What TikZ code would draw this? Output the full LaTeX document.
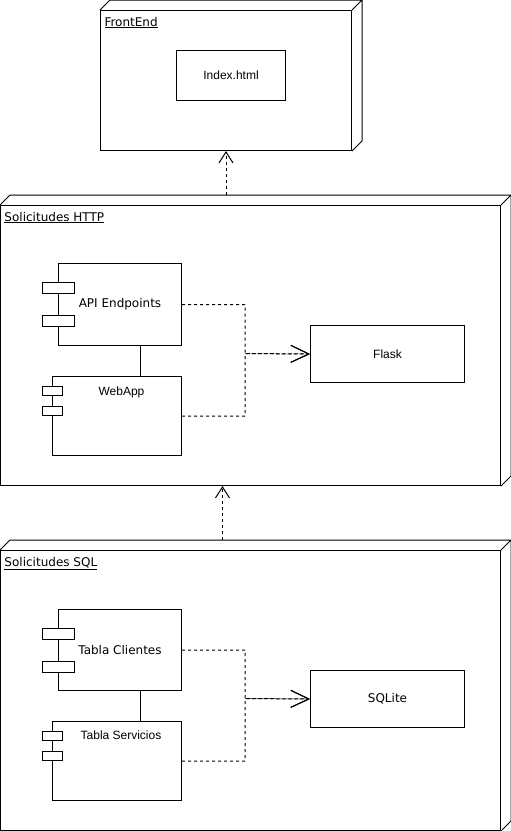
\documentclass[tikz,border=0pt]{standalone}
\usepackage{fontspec}
\setmainfont{DejaVu Sans}
\newfontfamily\arialfont{Liberation Sans}
\usetikzlibrary{arrows.meta}

% depth of a deployment node, drawn behind its front face
\newcommand\nodedepth[1]{%
\path[draw] (#1.north west) -- ++(10,-10)
 -- ([shift={(10pt,10pt)}]#1.north east)
 -- ([shift={(10pt,10pt)}]#1.south east) -- (#1.south east)
 (#1.north east) -- ++(10,-10) ;}

% the two ports of a component
\newcommand\wideports[1]{%
\path[draw,fill=white] (#1.north west) ++(-16,19) rectangle ++(32,11)
 (#1.north west) ++(-16,52) rectangle ++(32,11) ;}
\newcommand\narrowports[1]{%
\path[draw,fill=white] (#1.north west) ++(-10,10) rectangle ++(20,9)
 (#1.north west) ++(-10,30) rectangle ++(20,9) ;}

\begin{document}
\begin{tikzpicture}[x=1pt,y=-1pt,line width=1pt,
 box/.style={draw,rectangle,inner sep=0pt,anchor=north west,
  font=\fontsize{12}{14}\selectfont},
 arialbox/.style={box,font=\arialfont\fontsize{12}{14}\selectfont},
 title/.style={inner sep=0pt,anchor=base west,font=\fontsize{12}{14}\selectfont},
 arialtext/.style={inner sep=0pt,anchor=base,font=\arialfont\fontsize{12}{14}\selectfont},
 dep/.style={draw,dash pattern=on 3pt off 3pt,-{Straight Barb[length=11pt,width=14pt]}},
 flow/.style={draw,dash pattern=on 3pt off 3pt,-{Straight Barb[length=18pt,width=17pt]}}]
\useasboundingbox (0,0) rectangle (511,831);

% FrontEnd
\node[box,minimum width=251pt,minimum height=140pt] (fe) at (100,10) {};
\nodedepth{fe}
\node[title] (fetitle) at ([shift={(4pt,-16pt)}]fe.north west) {\underline{FrontEnd}};
\node[arialbox,minimum width=109pt,minimum height=50pt] (index) at (176,50) {Index.html};

% Solicitudes HTTP
\node[box,minimum width=500pt,minimum height=280pt] (http) at (0,205) {};
\nodedepth{http}
\node[title] (httptitle) at ([shift={(4pt,-16pt)}]http.north west) {\underline{Solicitudes HTTP}};
\node[box,minimum width=123pt,minimum height=82pt] (api) at (58,263) {API Endpoints};
\node[box,minimum width=129pt,minimum height=79pt] (webapp) at (52,376) {};
\node[arialtext] (webapptext) at ([shift={(4.5pt,-19pt)}]webapp.north) {WebApp};
\wideports{api}
\narrowports{webapp}
\node[arialbox,minimum width=154pt,minimum height=57pt] (flask) at (310,325) {Flask};
\coordinate (apilink) at ([xshift=20.5pt]api.south);
\path[draw] (apilink) -- (apilink |- webapp.north);
\coordinate (httpjoin) at (245,353.5);
\path[flow] (api.east) -| (httpjoin) -- (flask.west);
\path[flow] (webapp.east) -| (httpjoin) -- (flask.west);

% Solicitudes SQL
\node[box,minimum width=500pt,minimum height=280pt] (sql) at (0,550) {};
\nodedepth{sql}
\node[title] (sqltitle) at ([shift={(4pt,-16pt)}]sql.north west) {\underline{Solicitudes SQL}};
\node[box,minimum width=123pt,minimum height=81pt] (clientes) at (58,609) {Tabla Clientes};
\node[box,minimum width=129pt,minimum height=79pt] (servicios) at (52,721) {};
\node[arialtext] (serviciostext) at ([shift={(4pt,-18pt)}]servicios.north) {Tabla Servicios};
\wideports{clientes}
\narrowports{servicios}
\node[box,minimum width=154pt,minimum height=57pt] (sqlite) at (310,670) {SQLite};
\coordinate (clienteslink) at ([xshift=20.5pt]clientes.south);
\path[draw] (clienteslink) -- (clienteslink |- servicios.north);
\coordinate (sqljoin) at (245,698.5);
\path[flow] (clientes.east) -| (sqljoin) -- (sqlite.west);
\path[flow] (servicios.east) -| (sqljoin) -- (sqlite.west);

% dependencies between the nodes
\coordinate (httptop) at ([yshift=10pt]http.north);
\path[dep] (fe.south |- httptop) -- (fe.south);
\coordinate (httpbase) at ([xshift=-28pt]http.south);
\coordinate (sqltop) at ([yshift=10pt]sql.north);
\path[dep] (httpbase |- sqltop) -- (httpbase);
\end{tikzpicture}
\end{document}
